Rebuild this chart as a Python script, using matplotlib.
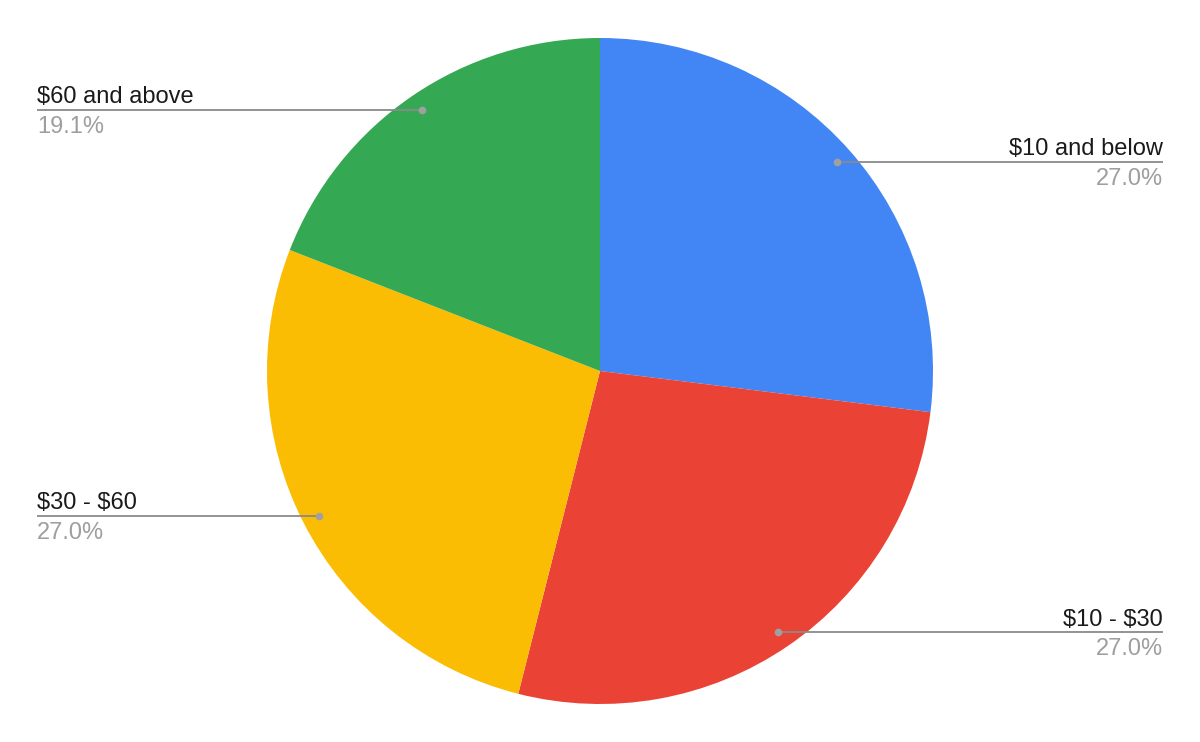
import numpy as np
import matplotlib
matplotlib.use('Agg')
import matplotlib.pyplot as plt

categories = ['$10 and below', '$10 - $30', '$30 - $60', '$60 and above']
shares = [27.0, 27.0, 27.0, 19.1]
colors = ['#4285F4', '#EA4335', '#FBBC04', '#34A853']

plt.rcParams['font.family'] = ['Liberation Sans', 'DejaVu Sans']

W, H = 1200, 742
fig = plt.figure(figsize=(12, 7.42), dpi=100)
ax = fig.add_axes([0, 0, 1, 1])

cx, cy, R = 600, 371, 333
wedges, _ = ax.pie(shares, colors=colors, startangle=90, counterclock=False,
                   center=(cx, cy), radius=R, frame=True,
                   wedgeprops={'linewidth': 0})
ax.set_xlim(0, W)
ax.set_ylim(0, H)
ax.set_aspect('equal')
ax.axis('off')

for w, name, val in zip(wedges, categories, shares):
    th = np.deg2rad((w.theta1 + w.theta2) / 2)
    px = cx + 0.95 * R * np.cos(th)
    py = cy + 0.95 * R * np.sin(th)
    if np.cos(th) >= 0:
        xend, ha = 1163, 'right'
    else:
        xend, ha = 37, 'left'
    ax.plot([px, xend], [py, py], color='#8a8a8a', lw=1.3, solid_capstyle='butt', zorder=3)
    ax.plot(px, py, 'o', color='#a0a0a0', ms=5.5, mew=0, zorder=4)
    # label sits above the leader line, percent below it
    ax.text(xend, py + 6.5, name.replace('$', r'\$'), ha=ha, va='baseline',
            fontsize=17, color='#1a1a1a')
    ax.text(xend, py - 23, f'{val:.1f}%', ha=ha, va='baseline', fontsize=17, color='#9e9e9e')

fig.savefig('out.png', dpi=100, facecolor='white')
